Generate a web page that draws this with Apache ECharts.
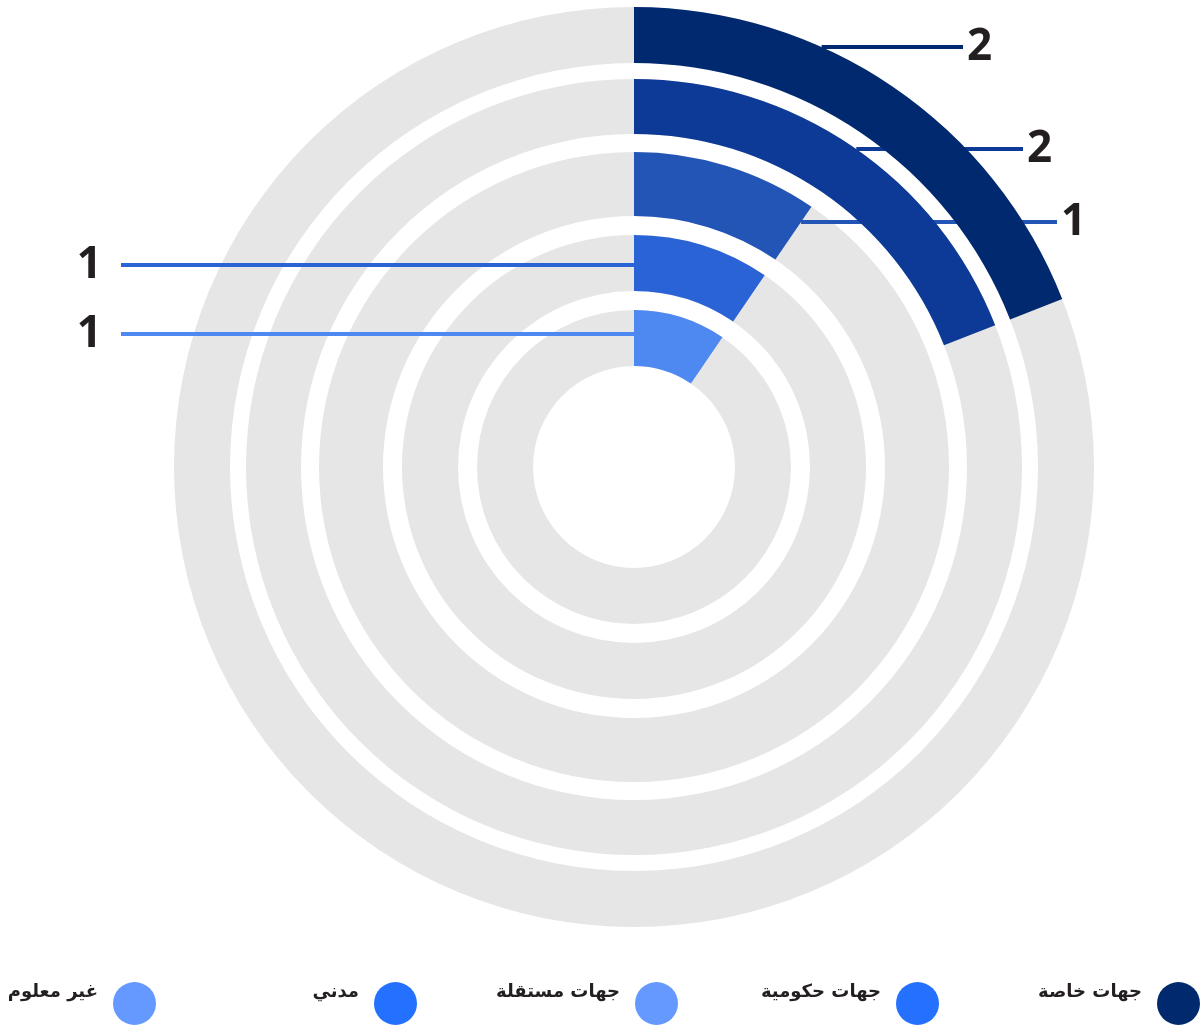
<!DOCTYPE html>
<html><head><meta charset="utf-8">
<script src="https://cdn.jsdelivr.net/npm/echarts@6/dist/echarts.min.js"></script>
<style>html,body{margin:0;padding:0;background:#fff}#c{width:1203px;height:1028px}</style>
</head><body><div id="c"></div>
<script>
// ---- data ----
const categories = ['جهات خاصة', 'جهات حكومية', 'جهات مستقلة', 'مدني', 'غير معلوم'];
const values = [2, 2, 1, 1, 1];
const scaleMax = 10.5; // value that fills a full ring

// ---- style / layout ----
const ringColors = ['#012970', '#0d3a96', '#2355b6', '#2a63d6', '#4e88f1'];
const legendColors = ['#012a6e', '#2470ff', '#6699ff', '#2470ff', '#6699ff'];
const trackColor = '#e6e6e6';
const center = [634, 467];
const ringRadii = [[404, 460], [333, 388], [251, 315], [176, 232], [101, 157]];
const labelSide = ['right', 'right', 'right', 'left', 'left'];
const labelRise = [420, 318, 245, 202, 133];
const labelReach = [329, 389, 423, -513, -513];
const legendPitch = 261;

function layoutFor(i) {
  return function (params) {
    if (params.dataIndex !== 0) return;
    const h = labelRise[i];
    const y = center[1] - h;
    const r1 = ringRadii[i][1];
    const theta = values[i] / scaleMax * 2 * Math.PI;
    const xe = center[0] + labelReach[i];
    if (labelSide[i] === 'right') {
      const xo = Math.sqrt(Math.max(r1 * r1 - h * h, 0));
      const ang = Math.atan2(xo, h);
      const xs = ang <= theta ? center[0] + xo : center[0] + h * Math.tan(theta);
      return { x: xe + 4, y: y, align: 'left', verticalAlign: 'middle',
               labelLinePoints: [[xs, y], [xe, y]] };
    } else {
      return { x: xe - 19, y: y, align: 'right', verticalAlign: 'middle',
               labelLinePoints: [[xe, y], [center[0] + 1, y]] };
    }
  };
}

// background tracks
const trackSeries = categories.map(function (name, i) {
  return {
    type: 'pie', z: 1,
    center: center, radius: ringRadii[i],
    silent: true, emphasis: { disabled: true },
    label: { show: false }, labelLine: { show: false },
    data: [{ name: 'track', value: scaleMax, itemStyle: { color: trackColor } }]
  };
});

// value arcs
const valueSeries = categories.map(function (name, i) {
  return {
    type: 'pie', z: 2,
    center: center,
    radius: ringRadii[i],
    startAngle: 90,
    clockwise: true,
    avoidLabelOverlap: false,
    silent: true,
    emphasis: { disabled: true },
    labelLayout: layoutFor(i),
    data: [
      {
        name: name, value: values[i],
        itemStyle: { color: ringColors[i] },
        label: { show: true, position: 'outside', formatter: '{c}',
                 fontFamily: 'Open Sans', fontWeight: 'bold', fontSize: 44, color: '#231f20' },
        labelLine: { show: true, lineStyle: { width: 4, color: ringColors[i] } }
      },
      {
        name: 'rest', value: scaleMax - values[i],
        itemStyle: { color: 'rgba(0,0,0,0)' },
        label: { show: false }, labelLine: { show: false }
      }
    ]
  };
});

const legends = categories.map(function (name, i) {
  return {
    data: [{ name: name, itemStyle: { color: legendColors[i] } }],
    orient: 'horizontal',
    align: 'right',
    right: 3 + legendPitch * i,
    bottom: 3,
    padding: 0,
    icon: 'circle',
    itemWidth: 43,
    itemHeight: 43,
    selectedMode: false,
    formatter: '{t|{name}}',
    textStyle: {
      rich: {
        t: {
          padding: [0, 10, 22, 0],
          fontFamily: 'DejaVu Sans', fontWeight: 'bold', fontSize: 18, color: '#231f20'
        }
      }
    }
  };
});

const chart = echarts.init(document.getElementById('c'), null, { renderer: 'canvas' });
chart.setOption({
  animation: false,
  backgroundColor: '#ffffff',
  legend: legends,
  series: trackSeries.concat(valueSeries)
});
</script></body></html>
